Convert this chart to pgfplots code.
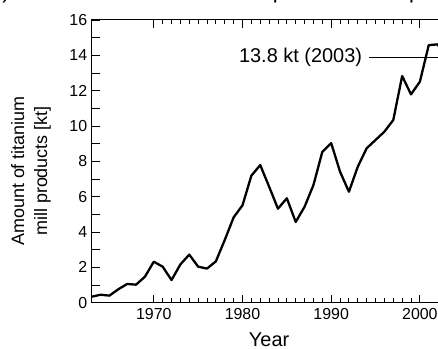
\documentclass[border=0pt]{standalone}
\usepackage{pgfplots}
\pgfplotsset{compat=1.18}
\usepackage{fontspec}
\setmainfont{Liberation Sans}
\usetikzlibrary{arrows.meta}
\pgfplotstableread{
year val
1963 0.34
1964 0.45
1965 0.40
1966 0.76
1967 1.06
1968 1.02
1969 1.47
1970 2.32
1971 2.04
1972 1.28
1973 2.17
1974 2.72
1975 2.04
1976 1.93
1977 2.34
1978 3.55
1979 4.83
1980 5.51
1981 7.19
1982 7.79
1983 6.57
1984 5.32
1985 5.91
1986 4.57
1987 5.43
1988 6.66
1989 8.54
1990 9.03
1991 7.41
1992 6.28
1993 7.70
1994 8.74
1995 9.21
1996 9.68
1997 10.34
1998 12.83
1999 11.79
2000 12.51
2001 14.58
2002 14.62
2003 13.80
}\mydata
\begin{document}
\begin{tikzpicture}
\begin{axis}[
  at={(0,0)}, anchor=south west,
  scale only axis,
  width=354.8bp, height=282.7bp,
  xmin=1963, xmax=2003,
  ymin=0, ymax=16,
  xtick={1970,1980,1990,2000},
  minor x tick num=9,
  ytick={0,1,...,16},
  yticklabels={0,,2,,4,,6,,8,,10,,12,,14,,16},
  tick align=inside,
  major tick length=8bp,
  minor tick length=4.5bp,
  axis line style={line width=1bp},
  every tick/.style={black, line width=0.9bp},
  tick label style={font=\fontsize{16}{18}\selectfont},
  /pgf/number format/assume math mode=true,
  /pgf/number format/1000 sep={},
  xticklabel style={yshift=-2bp},
  yticklabel style={xshift=-1bp},
  clip=false,
]
\addplot[black, line width=2.3bp, line join=round] table[x=year, y=val] {\mydata};
\draw[line width=0.6bp, -{Stealth[length=4bp,width=3bp]}] (axis cs:1994.3,13.87) -- (axis cs:2002.9,13.87);
\node[anchor=east, font=\fontsize{20}{22}\selectfont, inner sep=0pt] at (axis cs:1993.5,13.87) {13.8 kt (2003)};
\end{axis}
\node[anchor=base, font=\fontsize{20}{22}\selectfont] at (177.4bp,-43.3bp) {Year};
\node[rotate=90, align=center, font=\fontsize{18}{23}\selectfont] at (-60.7bp,131.7bp) {Amount of titanium\\mill products [kt]};
\node[anchor=base west, font=\fontsize{22}{24}\selectfont, inner sep=0pt] at (-109bp,304.2bp) {(b) Production of titanium mill products in Japan};
\pgfresetboundingbox
\useasboundingbox (-91.7bp,-46.3bp) rectangle (346.3bp,302.7bp);
\end{tikzpicture}
\end{document}
